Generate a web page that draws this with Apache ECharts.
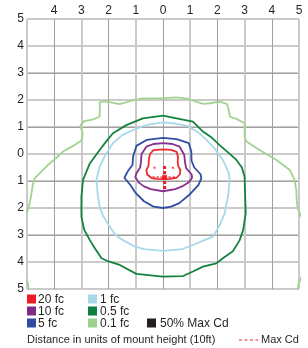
<!DOCTYPE html>
<html><head><meta charset="utf-8">
<script src="https://cdn.jsdelivr.net/npm/echarts@6/dist/echarts.min.js"></script>
<style>html,body{margin:0;padding:0;background:#fff}#c{width:308px;height:348px}</style>
</head><body><div id="c"></div>
<script>
// Tick labels (absolute distance in mount heights)
const xTickLabels = ['', '4', '3', '2', '1', '0', '1', '2', '3', '4', '5'];
const yTickLabels = ['5', '4', '3', '2', '1', '0', '1', '2', '3', '4', '5'];

// Isofootcandle contours, [x, y] in mount heights (y positive = downward in the plot)
const fc20 = [[0,-0.17],[0.3,-0.15],[0.5,-0.08],[0.55,0.1],[0.54,0.3],[0.56,0.45],[0.64,0.6],[0.62,0.75],[0.5,0.88],[0.25,0.92],[0,0.93],[-0.25,0.92],[-0.42,0.89],[-0.58,0.76],[-0.61,0.6],[-0.53,0.42],[-0.52,0.2],[-0.48,0.0],[-0.35,-0.14],[0,-0.17]];
const fc10 = [[0,-0.4],[0.35,-0.37],[0.61,-0.27],[0.78,0.03],[0.81,0.3],[0.85,0.52],[1.05,0.75],[1.07,0.88],[0.95,1.05],[0.7,1.2],[0.45,1.3],[0,1.38],[-0.45,1.3],[-0.7,1.2],[-0.9,1.05],[-1.02,0.85],[-0.97,0.7],[-0.84,0.5],[-0.81,0.3],[-0.79,0.0],[-0.61,-0.27],[-0.35,-0.37],[0,-0.4]];
const fc5 = [[0,-0.6],[0.5,-0.55],[0.95,-0.4],[1.04,-0.1],[1.05,0.25],[1.15,0.5],[1.38,0.75],[1.41,0.9],[1.3,1.15],[1.0,1.48],[0.6,1.82],[0.3,1.95],[0,2.0],[-0.35,1.95],[-0.7,1.75],[-1.0,1.45],[-1.2,1.15],[-1.42,0.88],[-1.3,0.65],[-1.12,0.4],[-1.1,0.1],[-0.98,-0.3],[-0.6,-0.52],[0,-0.6]];
const fc1 = [[0,-1.17],[0.5,-1.12],[0.9,-1.04],[1.3,-0.8],[1.6,-0.52],[1.9,-0.2],[2.2,0.22],[2.42,0.7],[2.45,0.96],[2.4,1.5],[2.27,2.2],[2.1,2.6],[1.84,3.06],[1.5,3.2],[1.1,3.37],[0.7,3.52],[0,3.59],[-0.7,3.52],[-1.1,3.4],[-1.47,3.19],[-1.75,3.0],[-1.96,2.69],[-2.2,2.3],[-2.33,1.95],[-2.4,1.5],[-2.45,0.96],[-2.33,0.47],[-2.1,0.0],[-1.84,-0.4],[-1.5,-0.7],[-1.1,-0.89],[-0.6,-1.08],[0,-1.17]];
const fc05 = [[0,-1.42],[0.5,-1.32],[1.1,-1.2],[1.47,-0.83],[1.8,-0.6],[2.08,-0.33],[2.4,-0.05],[2.7,0.22],[2.9,0.5],[3.0,0.84],[3.02,1.5],[3.04,2.2],[2.95,2.8],[2.82,3.19],[2.57,3.6],[2.2,3.86],[1.96,4.05],[1.47,4.17],[1.1,4.35],[0.74,4.52],[0,4.54],[-0.98,4.44],[-1.59,4.11],[-2.0,3.98],[-2.26,3.86],[-2.5,3.5],[-2.69,3.19],[-2.9,2.8],[-3.0,2.32],[-3.0,1.58],[-2.94,0.96],[-2.69,0.35],[-2.33,-0.15],[-2.1,-0.45],[-1.84,-0.77],[-1.35,-1.07],[-0.74,-1.32],[0,-1.42]];
const fc01 = [[-4.92,5.3],[-4.96,4.8],[-5.1,4.5],[-5.3,3.5],[-5.1,2.3],[-4.96,2.07],[-4.9,1.8],[-4.84,1.5],[-4.8,1.2],[-4.72,0.9],[-4.5,0.68],[-4.2,0.38],[-3.9,0.12],[-3.68,-0.09],[-3.3,-0.3],[-3.0,-0.5],[-2.95,-0.75],[-3.04,-1.05],[-2.9,-1.22],[-2.6,-1.27],[-2.33,-1.38],[-2.32,-1.7],[-2.33,-1.92],[-2.1,-1.95],[-1.6,-1.85],[-1.04,-2.0],[-0.74,-2.06],[0,-2.07],[0.49,-2.1],[0.9,-2.05],[1.47,-1.86],[1.72,-1.88],[2.1,-1.94],[2.36,-1.85],[2.42,-1.6],[2.46,-1.38],[2.7,-1.3],[3.0,-1.14],[3.0,-0.64],[3.07,-0.46],[3.55,-0.15],[4.17,0.22],[4.66,0.59],[4.84,0.96],[4.9,1.33],[4.92,1.8],[4.97,2.05],[5.2,2.6],[5.3,3.5],[5.15,4.4],[4.97,4.85],[4.95,5.3]];

// Max Cd markers
const maxCdVertical = [[0.06,0.44],[0.06,1.33]];
const maxCdHorizontal = [[-0.39,0.86],[0.49,0.86]];
const maxCdPoint = [[0.06,0.86]];
const maxCdDots = [[-0.31,0.51],[0.37,0.51]];

const legendNames = [['20 fc','10 fc','5 fc'],['1 fc','0.5 fc','0.1 fc'],[null,null,'50% Max Cd']];
const xTitle = 'Distance in units of mount height (10ft)';
const maxCdLabel = 'Max Cd';

// styles
const colors = {'20 fc':'#ed1c24','10 fc':'#7f2b88','5 fc':'#2e4d9f','1 fc':'#a5d8e8','0.5 fc':'#0f7f3f','0.1 fc':'#9bd18b','50% Max Cd':'#231f20'};
const lineColors = {'20 fc':'#ee2a2e','10 fc':'#8a2f8f','5 fc':'#2f4ea2','1 fc':'#a8d9e8','0.5 fc':'#13823f','0.1 fc':'#a0d48f'};
const FONT = '"Liberation Sans", Arial, sans-serif';
const TXT = '#231f20';
const DARK = '#a0a0a0', LIGHT = '#cacaca';

const contourSeries = [['0.1 fc',fc01],['0.5 fc',fc05],['1 fc',fc1],['5 fc',fc5],['10 fc',fc10],['20 fc',fc20]].map(([n,d]) => ({
  type:'line', name:n, data:d, showSymbol:false, symbol:'none', smooth:false, clip:true,
  lineStyle:{color:lineColors[n], width:1.8}, z:3, silent:true, animation:false
}));

const graphics = [];
const colX = [27, 88, 147], textX = [38, 100, 160], rowY = [299, 311, 323];
legendNames.forEach((col, ci) => col.forEach((nm, ri) => {
  if (!nm) return;
  graphics.push({type:'rect', shape:{x:colX[ci], y:rowY[ri]-4.5, width:9, height:9}, style:{fill:colors[nm]}});
  graphics.push({type:'text', x:textX[ci], y:rowY[ri]+0.5, style:{text:nm, font:'12px '+FONT, fill:TXT, textVerticalAlign:'middle'}});
}));
graphics.push({type:'text', x:27, y:340, style:{text:xTitle, font:'11px '+FONT, fill:TXT, textVerticalAlign:'middle'}});
graphics.push({type:'line', shape:{x1:239, y1:340, x2:258, y2:340}, style:{stroke:'#ed1c24', lineWidth:1, lineDash:[3,2.5]}});
graphics.push({type:'text', x:261, y:340, style:{text:maxCdLabel, font:'11px '+FONT, fill:TXT, textVerticalAlign:'middle'}});

const chart = echarts.init(document.getElementById('c'), null, {renderer:'canvas'});
const yMainColors = yTickLabels.map(() => LIGHT);
const ySecColors = ['rgba(0,0,0,0)', DARK, DARK, DARK, DARK, 'rgba(0,0,0,0)'];
chart.setOption({
  animation:false,
  grid:{left:27, top:19, width:272, height:270, containLabel:false},
  xAxis:[
    {type:'value', min:-5, max:5, interval:1, position:'top',
     axisLine:{show:false}, axisTick:{show:false},
     axisLabel:{margin:2, color:TXT, fontSize:12, fontFamily:FONT, formatter:(v)=>xTickLabels[Math.round(v+5)], showMinLabel:true, showMaxLabel:true},
     splitLine:{show:true, lineStyle:{color:DARK, width:1}}},
    {type:'value', min:-5, max:5, interval:2, position:'bottom', z:1,
     axisLine:{show:false}, axisTick:{show:false}, axisLabel:{show:false},
     splitLine:{show:true, lineStyle:{color:LIGHT, width:2}}}
  ],
  yAxis:[
    {type:'value', min:-5, max:5, interval:1, inverse:true,
     axisLine:{show:false}, axisTick:{show:false},
     axisLabel:{margin:3, color:TXT, fontSize:12, fontFamily:FONT, formatter:(v)=>yTickLabels[Math.round(v+5)], showMinLabel:true, showMaxLabel:true},
     splitLine:{show:true, lineStyle:{color:yMainColors, width:2}}},
    {type:'value', min:-5, max:5, interval:2, inverse:true, position:'right', z:1,
     axisLine:{show:false}, axisTick:{show:false}, axisLabel:{show:false},
     splitLine:{show:true, lineStyle:{color:ySecColors, width:1}}}
  ],
  series: contourSeries.concat([
    {type:'line', data:maxCdVertical, symbol:'none', lineStyle:{color:'#ed1c24', width:3, type:[3,2]}, z:5, silent:true},
    {type:'line', data:maxCdHorizontal, symbol:'none', lineStyle:{color:'#ed1c24', width:1.2, type:[2.5,1.5]}, z:5, silent:true},
    {type:'scatter', data:maxCdPoint, symbol:'rect', symbolSize:5, itemStyle:{color:'#ed1c24'}, z:6, silent:true},
    {type:'scatter', data:maxCdDots, symbol:'rect', symbolSize:2, itemStyle:{color:'#ed1c24'}, z:6, silent:true}
  ]),
  graphic: graphics
});
</script></body></html>
